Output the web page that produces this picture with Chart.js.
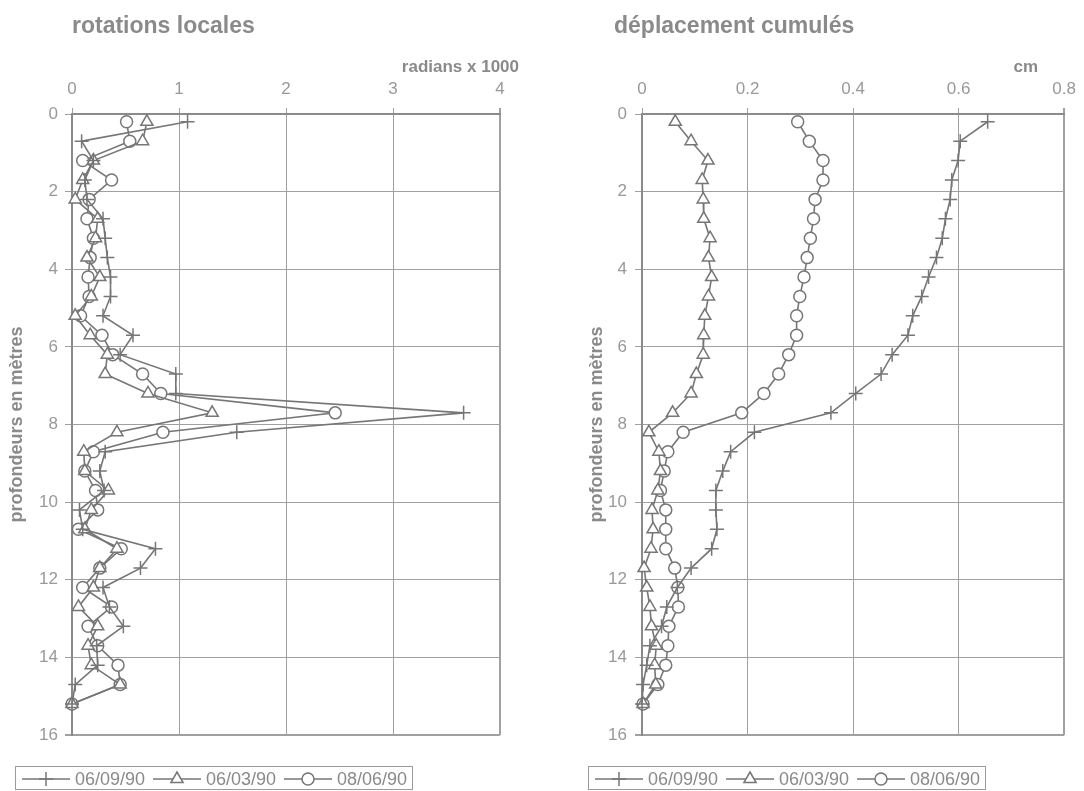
<!DOCTYPE html>
<html>
<head>
<meta charset="utf-8">
<script src="https://cdn.jsdelivr.net/npm/chart.js@4/dist/chart.umd.min.js"></script>
<style>
  body { margin: 0; background: #fff; }
  #g1 { position: absolute; left: 0; top: 0; }
  #g2 { position: absolute; left: 540px; top: 0; }
</style>
</head>
<body>
<canvas id="g1" width="540" height="791"></canvas>
<canvas id="g2" width="544" height="791"></canvas>
<script>
const depths = [0.2, 0.7, 1.2, 1.7, 2.2, 2.7, 3.2, 3.7, 4.2, 4.7, 5.2, 5.7, 6.2, 6.7, 7.2, 7.7,
  8.2, 8.7, 9.2, 9.7, 10.2, 10.7, 11.2, 11.7, 12.2, 12.7, 13.2, 13.7, 14.2, 14.7, 15.2];
const seriesLabels = ['06/09/90', '06/03/90', '08/06/90'];
const depthTicks = [0, 2, 4, 6, 8, 10, 12, 14, 16];

// rotations locales (radians x 1000)
const rotTicks = [0, 1, 2, 3, 4];
const rot0609 = [1.08, 0.09, 0.20, 0.12, 0.14, 0.29, 0.31, 0.33, 0.36, 0.36, 0.29, 0.57, 0.45, 0.97, 0.97, 3.66,
  1.54, 0.31, 0.26, 0.30, 0.07, 0.10, 0.78, 0.64, 0.29, 0.35, 0.48, 0.23, 0.24, 0.03, 0.00];
const rot0603 = [0.70, 0.66, 0.20, 0.10, 0.03, 0.24, 0.22, 0.14, 0.26, 0.18, 0.03, 0.17, 0.33, 0.31, 0.71, 1.31,
  0.42, 0.11, 0.12, 0.34, 0.18, 0.12, 0.42, 0.26, 0.20, 0.06, 0.24, 0.15, 0.18, 0.45, 0.00];
const rot0806 = [0.51, 0.54, 0.10, 0.37, 0.16, 0.14, 0.20, 0.17, 0.15, 0.16, 0.08, 0.28, 0.38, 0.66, 0.83, 2.46,
  0.85, 0.20, 0.12, 0.22, 0.24, 0.06, 0.46, 0.26, 0.10, 0.37, 0.15, 0.24, 0.43, 0.45, 0.00];

// déplacement cumulés (cm)
const depTicks = [0, 0.2, 0.4, 0.6, 0.8];
const dep0609 = [0.655, 0.603, 0.599, 0.587, 0.584, 0.575, 0.569, 0.558, 0.543, 0.530, 0.513, 0.504, 0.474, 0.453, 0.405, 0.358,
  0.213, 0.168, 0.153, 0.140, 0.140, 0.142, 0.132, 0.093, 0.067, 0.047, 0.037, 0.015, 0.009, 0.002, 0.000];
const dep0603 = [0.063, 0.093, 0.125, 0.114, 0.116, 0.117, 0.129, 0.126, 0.132, 0.126, 0.119, 0.117, 0.116, 0.103, 0.093, 0.058,
  0.013, 0.032, 0.035, 0.030, 0.019, 0.021, 0.017, 0.004, 0.009, 0.015, 0.018, 0.027, 0.024, 0.026, 0.002];
const dep0806 = [0.295, 0.317, 0.343, 0.343, 0.328, 0.325, 0.319, 0.313, 0.307, 0.299, 0.293, 0.293, 0.278, 0.259, 0.231, 0.189,
  0.078, 0.049, 0.042, 0.035, 0.045, 0.045, 0.045, 0.062, 0.068, 0.069, 0.051, 0.049, 0.045, 0.030, 0.002];

const gris = '#767676';
const texte = '#8a8a8a';
const styles = [
  { pointStyle: 'cross', radius: 7 },
  { pointStyle: 'triangle', radius: 7 },
  { pointStyle: 'circle', radius: 6 }
];

function drawMarker(ctx, style, r, x, y) {
  ctx.beginPath();
  if (style === 'cross') {
    ctx.moveTo(x - r, y); ctx.lineTo(x + r, y);
    ctx.moveTo(x, y - r); ctx.lineTo(x, y + r);
    ctx.stroke();
    return;
  }
  if (style === 'triangle') {
    ctx.moveTo(x, y - r);
    ctx.lineTo(x + r * 0.87, y + r * 0.5);
    ctx.lineTo(x - r * 0.87, y + r * 0.5);
    ctx.closePath();
  } else {
    ctx.arc(x, y, r, 0, Math.PI * 2);
  }
  ctx.fill();
  ctx.stroke();
}

const textes = {
  id: 'textes',
  afterDraw(chart, args, opts) {
    const { ctx, chartArea } = chart;
    ctx.save();
    ctx.fillStyle = texte;
    ctx.textBaseline = 'alphabetic';
    ctx.font = 'bold 23px "Liberation Sans", Arial, sans-serif';
    ctx.textAlign = 'left';
    ctx.fillText(opts.title, opts.titleX, 33);

    ctx.font = 'bold 17px "Liberation Sans", Arial, sans-serif';
    ctx.textAlign = 'right';
    ctx.fillText(opts.unit, opts.unitX, 72);

    ctx.save();
    ctx.translate(opts.yTitleX, (chartArea.top + chartArea.bottom) / 2);
    ctx.rotate(-Math.PI / 2);
    ctx.textAlign = 'center';
    ctx.textBaseline = 'middle';
    ctx.font = 'bold 18px "Liberation Sans", Arial, sans-serif';
    ctx.fillText('profondeurs en mètres', 0, 0);
    ctx.restore();

    // legend box
    const lx = opts.legendX, ly = 766;
    ctx.strokeStyle = '#9a9a9a';
    ctx.lineWidth = 1;
    ctx.strokeRect(lx + 0.5, ly + 0.5, 397, 23);
    ctx.font = '18px "Liberation Sans", Arial, sans-serif';
    ctx.textAlign = 'left';
    ctx.textBaseline = 'middle';
    chart.data.datasets.forEach((ds, i) => {
      const sx = lx + 7 + i * 131;
      const cy = ly + 13;
      ctx.strokeStyle = gris;
      ctx.fillStyle = '#fff';
      ctx.lineWidth = 1.5;
      ctx.beginPath();
      ctx.moveTo(sx, cy); ctx.lineTo(sx + 48, cy);
      ctx.stroke();
      drawMarker(ctx, styles[i].pointStyle, styles[i].radius, sx + 24, cy);
      ctx.fillStyle = texte;
      ctx.fillText(ds.label, sx + 53, cy + 1);
    });
    ctx.restore();
  }
};

function Profil(canvas, xTicks, series, opts) {
  const datasets = series.map((vals, i) => ({
    label: seriesLabels[i],
    data: vals.map((v, k) => ({ x: v, y: depths[k] })),
    showLine: true,
    borderColor: gris,
    borderWidth: 1.6,
    pointStyle: styles[i].pointStyle,
    pointRadius: styles[i].radius,
    pointBorderColor: gris,
    pointBackgroundColor: '#fff',
    pointBorderWidth: 1.5,
    clip: false
  }));
  const xmax = xTicks[xTicks.length - 1];
  new Chart(canvas, {
    type: 'scatter',
    data: { datasets: datasets },
    options: {
      responsive: false,
      animation: false,
      events: [],
      layout: { padding: { left: 0, right: opts.padRight, top: 0, bottom: 56 } },
      plugins: {
        legend: { display: false },
        tooltip: { enabled: false },
        textes: opts
      },
      scales: {
        x: {
          type: 'linear',
          position: 'top',
          min: 0,
          max: xmax,
          afterBuildTicks(s) { s.ticks = xTicks.map(v => ({ value: v })); },
          afterFit(s) { s.height = 114; },
          ticks: {
            color: '#999',
            font: { family: '"Liberation Sans", Arial, sans-serif', size: 17 },
            padding: 8,
            maxRotation: 0,
            callback: v => String(Math.round(v * 10) / 10)
          },
          grid: {
            color: '#a0a0a0',
            lineWidth: c => (c.tick && c.tick.value === xmax ? 2 : 1),
            tickLength: 6
          },
          border: { color: '#8a8a8a', width: 2 }
        },
        y: {
          type: 'linear',
          reverse: true,
          min: 0,
          max: 16,
          afterBuildTicks(s) { s.ticks = depthTicks.map(v => ({ value: v })); },
          afterFit(s) { s.width = opts.yWidth; },
          ticks: {
            color: '#999',
            font: { family: '"Liberation Sans", Arial, sans-serif', size: 17 },
            padding: opts.yPad
          },
          grid: {
            color: '#a0a0a0',
            lineWidth: c => (c.tick && c.tick.value === 16 ? 2 : 1),
            tickLength: 7
          },
          border: { color: '#8a8a8a', width: 2 }
        }
      }
    },
    plugins: [textes]
  });
}

Profil(document.getElementById('g1'), rotTicks, [rot0609, rot0603, rot0806], {
  title: 'rotations locales', titleX: 72, unit: 'radians x 1000', unitX: 519,
  yTitleX: 17, legendX: 15, yWidth: 72, yPad: 7, padRight: 40
});
Profil(document.getElementById('g2'), depTicks, [dep0609, dep0603, dep0806], {
  title: 'déplacement cumulés', titleX: 74, unit: 'cm', unitX: 498,
  yTitleX: 57, legendX: 48, yWidth: 102, yPad: 8, padRight: 13
});
</script>
</body>
</html>
